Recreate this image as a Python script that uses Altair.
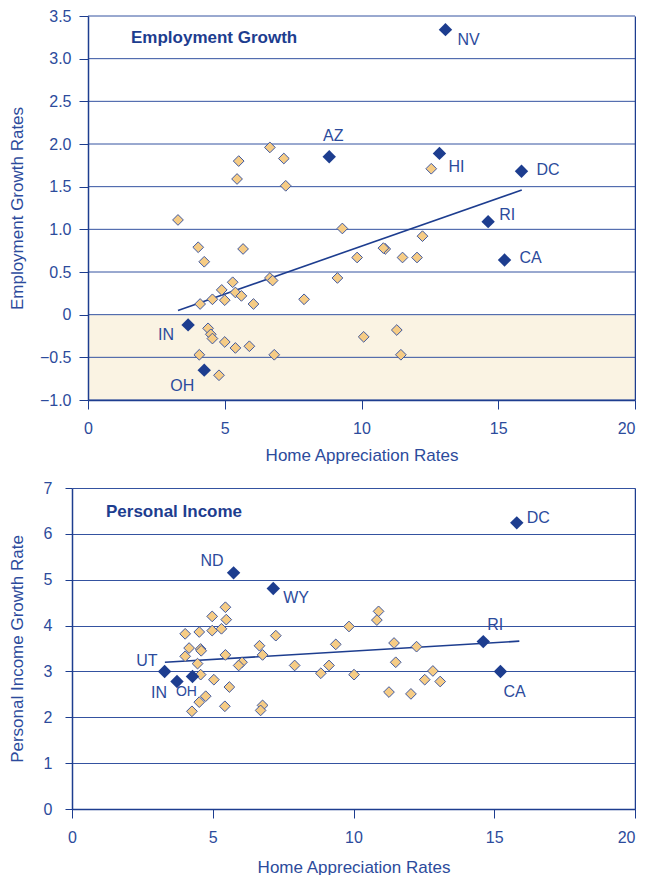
import altair as alt
import pandas as pd

# ---------------- data ----------------
x_ticks = [0, 5, 10, 15, 20]
emp_ticks = [-1.0, -0.5, 0.0, 0.5, 1.0, 1.5, 2.0, 2.5, 3.0, 3.5]
inc_ticks = [0, 1, 2, 3, 4, 5, 6, 7]
emp_band = [-1.0, 0.0]  # shaded region of negative employment growth

emp_light_home = [5.51, 6.65, 7.16, 5.45, 7.23, 3.29, 9.30, 4.03, 5.67, 4.25, 9.84,
                  6.65, 6.75, 9.12, 5.29, 4.89, 5.39, 5.61, 4.55, 5.00, 4.10, 6.05,
                  7.90, 4.39, 4.49, 4.55, 5.00, 5.39, 5.90, 4.07, 6.81, 4.79, 10.08,
                  12.23, 10.87, 10.80, 11.50, 12.03, 11.29, 11.44, 12.55]
emp_light_rate = [1.80, 1.96, 1.83, 1.59, 1.51, 1.11, 1.01, 0.79, 0.77, 0.62, 0.67,
                  0.43, 0.40, 0.43, 0.38, 0.29, 0.26, 0.22, 0.18, 0.17, 0.125, 0.125,
                  0.18, -0.16, -0.23, -0.28, -0.32, -0.39, -0.37, -0.47, -0.47, -0.71, -0.26,
                  0.92, 0.77, 0.78, 0.67, 0.67, -0.18, -0.47, 1.71]
emp_dark_state = ["NV", "AZ", "HI", "DC", "RI", "CA", "IN", "OH"]
emp_dark_home = [13.07, 8.82, 12.85, 15.85, 14.63, 15.23, 3.66, 4.25]
emp_dark_rate = [3.34, 1.85, 1.89, 1.68, 1.09, 0.64, -0.12, -0.65]
emp_trend_home = [3.29, 15.86]
emp_trend_rate = [0.05, 1.46]

inc_light_home = [5.45, 4.98, 5.48, 4.02, 4.52, 4.98, 5.31, 7.24, 9.84, 4.16, 4.57,
                  4.59, 6.66, 9.37, 4.02, 5.45, 6.77, 4.46, 6.04, 5.92, 7.91, 9.13,
                  8.84, 4.57, 5.04, 5.59, 4.75, 4.52, 4.26, 5.43, 6.77, 6.70, 10.02,
                  10.89, 10.83, 11.44, 12.24, 11.50, 12.82, 12.53, 13.08, 11.26, 12.04]
inc_light_rate = [4.40, 4.20, 4.13, 3.82, 3.86, 3.89, 3.93, 3.78, 3.98, 3.51, 3.49,
                  3.45, 3.56, 3.59, 3.33, 3.36, 3.36, 3.17, 3.20, 3.13, 3.13, 3.13,
                  2.96, 2.93, 2.82, 2.66, 2.46, 2.33, 2.13, 2.24, 2.26, 2.15, 2.93,
                  4.31, 4.12, 3.62, 3.54, 3.20, 3.01, 2.82, 2.78, 2.55, 2.51]
inc_dark_state = ["ND", "WY", "UT", "IN", "OH", "DC", "RI", "CA"]
inc_dark_home = [5.74, 7.15, 3.29, 3.73, 4.28, 15.80, 14.61, 15.22]
inc_dark_rate = [5.15, 4.81, 3.00, 2.78, 2.89, 6.24, 3.65, 3.00]
inc_trend_home = [3.30, 15.89]
inc_trend_rate = [3.20, 3.66]

# ---------------- styles ----------------
FONT = "Liberation Sans"
BLUE = "#1d3d8f"
TEXT = "#2c4b9c"
GRID = "#3452a0"
LIGHT = "#f6cc85"
LIGHT_STROKE = "#40599f"
BAND = "#faf3e3"

# label placement: align, dx, dy, font size
emp_label_style = {
    "NV": ("left", 12, 10, 16), "AZ": ("center", 4, -21, 16),
    "HI": ("left", 9, 14, 16), "DC": ("left", 15, -1, 16),
    "RI": ("left", 11, -7, 16), "CA": ("left", 15, -2, 16),
    "IN": ("right", -14, 10, 16), "OH": ("center", -22, 16, 16),
}
inc_label_style = {
    "ND": ("right", -10, -12, 16), "WY": ("left", 10, 10, 16),
    "UT": ("right", -7, -10, 16), "IN": ("right", -10, 11, 16),
    "OH": ("center", -6, 16, 14), "DC": ("left", 10, -5, 16),
    "RI": ("center", 12, -17, 16), "CA": ("left", 3, 21, 16),
}

PANEL_W = 563
TOP_H, BOT_H = 384, 321
SHIFT = 16  # top panel plot starts 16px right of the lower one

x_top = alt.Scale(domain=[x_ticks[0], x_ticks[-1]], range=[SHIFT, PANEL_W], nice=False, zero=False)
y_top = alt.Scale(domain=[emp_ticks[0], emp_ticks[-1]], nice=False, zero=False)
x_bot = alt.Scale(domain=[x_ticks[0], x_ticks[-1]], nice=False, zero=False)
y_bot = alt.Scale(domain=[inc_ticks[0], inc_ticks[-1]], nice=False, zero=False)

LAST_X_LABEL_ALIGN = {"condition": {"test": "datum.value == %d" % x_ticks[-1], "value": "right"},
                      "value": "center"}


def x_axis(title_pad):
    return alt.Axis(values=x_ticks, grid=False, tickSize=9, labelPadding=11,
                    titlePadding=title_pad, labelFlush=False, labelAlign=LAST_X_LABEL_ALIGN,
                    title="Home Appreciation Rates", zindex=1)


def X(field, sc, title_pad):
    return alt.X(field, scale=sc, axis=x_axis(title_pad))


def label_layers(states, homes, rates, styles, xs, ys, title_pad):
    out = []
    for s, h, r in zip(states, homes, rates):
        align, dx, dy, size = styles[s]
        df = pd.DataFrame({"home": [h], "rate": [r], "state": [s]})
        out.append(
            alt.Chart(df).mark_text(align=align, baseline="middle", dx=dx, dy=dy,
                                    fontSize=size, font=FONT, color=TEXT)
            .encode(x=X("home:Q", xs, title_pad),
                    y=alt.Y("rate:Q", scale=ys, axis=None),
                    text="state:N")
        )
    return out


# ---------------- top panel ----------------
TP_TOP = 11
band_df = pd.DataFrame({"x0": [x_ticks[0]], "x1": [x_ticks[-1]],
                        "y0": [emp_band[0]], "y1": [emp_band[1]]})
band = alt.Chart(band_df).mark_rect(color=BAND).encode(
    x=X("x0:Q", x_top, TP_TOP),
    x2="x1:Q",
    y=alt.Y("y0:Q", scale=y_top, axis=alt.Axis(
        values=emp_ticks, grid=False, offset=-SHIFT, tickSize=9, labelPadding=8,
        titlePadding=13, zindex=1, title="Employment Growth Rates",
        labelExpr="datum.value == 0 ? '0' : format(datum.value, '.1f')")),
    y2="y1:Q",
)
grid_df = pd.DataFrame({"v": emp_ticks, "x0": [x_ticks[0]] * len(emp_ticks),
                        "x1": [x_ticks[-1]] * len(emp_ticks)})
grid_top = alt.Chart(grid_df).mark_rule(color=GRID, strokeWidth=1).encode(
    y=alt.Y("v:Q", scale=y_top, axis=None),
    x=X("x0:Q", x_top, TP_TOP),
    x2="x1:Q",
)
trend_top = alt.Chart(pd.DataFrame({"home": emp_trend_home, "rate": emp_trend_rate})).mark_line(
    color=BLUE, strokeWidth=1.6).encode(
    x=X("home:Q", x_top, TP_TOP),
    y=alt.Y("rate:Q", scale=y_top, axis=None),
)
light_top = alt.Chart(pd.DataFrame({"home": emp_light_home, "rate": emp_light_rate})).mark_point(
    shape="diamond", filled=True, fill=LIGHT, stroke=LIGHT_STROKE, strokeWidth=1,
    size=115, opacity=1).encode(
    x=X("home:Q", x_top, TP_TOP),
    y=alt.Y("rate:Q", scale=y_top, axis=alt.Axis(orient="right", labels=False, ticks=False,
                                                 grid=False, title=None, zindex=1)),
)
dark_top = alt.Chart(pd.DataFrame({"home": emp_dark_home, "rate": emp_dark_rate})).mark_point(
    shape="diamond", filled=True, color=BLUE, size=180, opacity=1).encode(
    x=X("home:Q", x_top, TP_TOP),
    y=alt.Y("rate:Q", scale=y_top, axis=None),
)
title_top = alt.Chart(alt.Data(values=[{}])).mark_text(
    text="Employment Growth", align="left", baseline="middle", font=FONT, fontSize=17,
    fontWeight="bold", color=BLUE).encode(x=alt.value(SHIFT + 43), y=alt.value(22))

top = alt.layer(
    band, grid_top, trend_top, light_top, dark_top,
    *label_layers(emp_dark_state, emp_dark_home, emp_dark_rate, emp_label_style, x_top, y_top, TP_TOP),
    title_top,
).resolve_axis(y="independent").properties(width=PANEL_W, height=TOP_H)

# ---------------- bottom panel ----------------
TP_BOT = 14
trend_bot = alt.Chart(pd.DataFrame({"home": inc_trend_home, "rate": inc_trend_rate})).mark_line(
    color=BLUE, strokeWidth=1.6).encode(
    x=X("home:Q", x_bot, TP_BOT),
    y=alt.Y("rate:Q", scale=y_bot, axis=alt.Axis(
        values=inc_ticks, grid=True, tickSize=7, labelPadding=13, titlePadding=17,
        title="Personal Income Growth Rate")),
)
light_bot = alt.Chart(pd.DataFrame({"home": inc_light_home, "rate": inc_light_rate})).mark_point(
    shape="diamond", filled=True, fill=LIGHT, stroke=LIGHT_STROKE, strokeWidth=1,
    size=115, opacity=1).encode(
    x=X("home:Q", x_bot, TP_BOT),
    y=alt.Y("rate:Q", scale=y_bot, axis=alt.Axis(orient="right", labels=False, ticks=False,
                                                 grid=False, title=None, zindex=1)),
)
dark_bot = alt.Chart(pd.DataFrame({"home": inc_dark_home, "rate": inc_dark_rate})).mark_point(
    shape="diamond", filled=True, color=BLUE, size=180, opacity=1).encode(
    x=X("home:Q", x_bot, TP_BOT),
    y=alt.Y("rate:Q", scale=y_bot, axis=None),
)
title_bot = alt.Chart(alt.Data(values=[{}])).mark_text(
    text="Personal Income", align="left", baseline="middle", font=FONT, fontSize=17,
    fontWeight="bold", color=BLUE).encode(x=alt.value(34), y=alt.value(24))

bottom = alt.layer(
    trend_bot, light_bot, dark_bot,
    *label_layers(inc_dark_state, inc_dark_home, inc_dark_rate, inc_label_style, x_bot, y_bot, TP_BOT),
    title_bot,
).resolve_axis(y="independent").properties(width=PANEL_W, height=BOT_H)

chart = alt.vconcat(top, bottom, spacing=17).properties(
    padding={"left": 0, "top": 0, "right": 0, "bottom": 0}
).configure_view(stroke=None).configure_axis(
    labelFont=FONT, labelFontSize=16, labelColor=TEXT,
    titleFont=FONT, titleFontSize=17, titleFontWeight="normal", titleColor=TEXT,
    domainColor=BLUE, domainWidth=1.5, tickColor=BLUE, tickWidth=1,
    gridColor=GRID, gridWidth=1, gridOpacity=1,
)

chart.save("out.html", embed_options={"renderer": "svg", "actions": False})
